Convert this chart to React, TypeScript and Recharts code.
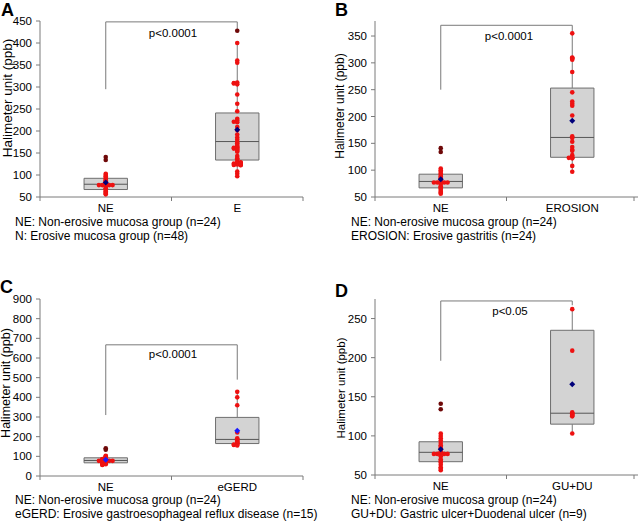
import { ComposedChart, XAxis, YAxis, Scatter, ReferenceArea, ReferenceLine } from 'recharts'

// halimeter readings (ppb) per group
const NE = [141, 134, 103, 100, 97, 94, 91, 88, 86, 84, 80, 77, 77, 77, 77, 77, 74, 70, 68, 66, 63, 60, 58, 56]
const EROSION = [355, 310, 309, 308, 306, 283, 245, 228, 224, 220, 202, 163, 160, 153, 143, 138, 136, 128, 124, 123, 123, 122, 108, 97]
const EGERD = [428, 400, 360, 221, 192, 185, 180, 175, 172, 168, 165, 162, 160, 158, 155]
const GUDU = [262, 209, 130, 129, 128, 127, 126, 125, 103]
// E = all erosive patients (n=48)
const E_ALL = [...EROSION, ...EGERD, ...GUDU]

// box stats: q1, median, q3, whisker low, whisker high, mean
const NE_STATS = [67, 79, 92.5, 56, 103, 83]
const E_STATS = [134, 176, 241, 96, 400, 203]
const EROSION_STATS = [124, 161, 253, 97, 355, 192]
const EGERD_STATS = [165, 186, 298, 155, 428, 230]
const GUDU_STATS = [115, 129, 235, 103, 262, 166]

const TICKS_A = [50, 100, 150, 200, 250, 300, 350, 400, 450]
const TICKS_B = [50, 100, 150, 200, 250, 300, 350]
const TICKS_C = [0, 100, 200, 300, 400, 500, 600, 700, 800, 900]
const TICKS_D = [50, 100, 150, 200, 250]

const NOTE_NE = 'NE: Non-erosive mucosa group (n=24)'

const AXIS = '#7a7a7a'
const RED = '#ee1111'
const DARK_RED = '#6e0808'
const BOX_HALF = 0.165
const FONT = '"Liberation Sans", Arial, sans-serif'

// spread equal readings sideways a little, like the original dot plot
const jitter = (values: number[], center: number, ppu: number) =>
    values.map((v, i) => {
        const k = values.slice(0, i).filter((w) => Math.abs(w - v) * ppu < 0.5).length
        const off = [0, -1, 1, -2, 2][k % 5]
        return { x: center + off * 0.026, y: v }
    })

const dot = (fill: string) => (p: any) => <circle cx={p.cx} cy={p.cy} r={2.3} fill={fill} />
const diamond = (fill: string) => (p: any) => (
    <path d={`M${p.cx},${p.cy - 3}L${p.cx + 3},${p.cy}L${p.cx},${p.cy + 3}L${p.cx - 3},${p.cy}Z`} fill={fill} />
)

const XTick = (p: any) => {
    const v = p.payload.value
    if (Number.isInteger(v)) {
        return <line x1={p.x} y1={p.y} x2={p.x} y2={p.y + 4} stroke={AXIS} />
    }
    return (
        <text x={p.x} y={p.y + 15} textAnchor="middle" fontSize={11.5} fill="#000">
            {p.cats[Math.floor(v)]}
        </text>
    )
}

type PanelProps = {
    letter: string
    left: number
    top: number
    marginTop: number
    axisH: number
    yWidth: number
    domain: [number, number]
    ticks: number[]
    cats: string[]
    groups: [number[], number[]][]
    bracket: number[]
    pText: string
    pX: number
    pY: number
    labelX: number
    labelY: number
    labelSize: number
    letterX: number
    letterY: number
    noteX: number
    noteY: number
    notes: string[]
    meanColor: string
}

const Panel = (props: PanelProps) => {
    const plotH = 260 - props.marginTop - props.axisH
    const ppu = plotH / (props.domain[1] - props.domain[0])
    const [neEnd, bTop, eEnd] = props.bracket

    return (
        <>
            <div style={{ position: 'absolute', left: props.left, top: props.top }}>
                <ComposedChart
                    width={319}
                    height={260}
                    margin={{ top: props.marginTop, right: 319 - props.yWidth - 263, bottom: 0, left: 0 }}
                >
                    <XAxis
                        type="number"
                        dataKey="x"
                        domain={[0, 2]}
                        allowDataOverflow
                        ticks={[0, 0.5, 1, 1.5, 2]}
                        height={props.axisH}
                        tickLine={false}
                        tickSize={0}
                        tickMargin={0}
                        axisLine={{ stroke: AXIS }}
                        tick={(p: any) => <XTick {...p} cats={props.cats} />}
                    />
                    <YAxis
                        type="number"
                        dataKey="y"
                        domain={props.domain}
                        allowDataOverflow
                        ticks={props.ticks}
                        width={props.yWidth}
                        tickSize={4}
                        tickMargin={4}
                        axisLine={{ stroke: AXIS }}
                        tickLine={{ stroke: AXIS }}
                        tick={{ fill: '#000', fontSize: 11.5 }}
                    />
                    {props.groups.map(([, s], i) => (
                        <ReferenceArea
                            key={'box' + i}
                            x1={i + 0.5 - BOX_HALF}
                            x2={i + 0.5 + BOX_HALF}
                            y1={s[0]}
                            y2={s[2]}
                            fill="#d3d3d3"
                            fillOpacity={1}
                            stroke="#6e6e6e"
                        />
                    ))}
                    {props.groups.map(([, s], i) => (
                        <ReferenceLine
                            key={'med' + i}
                            segment={[{ x: i + 0.5 - BOX_HALF, y: s[1] }, { x: i + 0.5 + BOX_HALF, y: s[1] }]}
                            stroke="#555"
                        />
                    ))}
                    {props.groups.map(([, s], i) => (
                        <ReferenceLine
                            key={'wh' + i}
                            segment={[{ x: i + 0.5, y: s[2] }, { x: i + 0.5, y: s[4] }]}
                            stroke={AXIS}
                        />
                    ))}
                    {props.groups.map(([, s], i) => (
                        <ReferenceLine
                            key={'wl' + i}
                            segment={[{ x: i + 0.5, y: s[3] }, { x: i + 0.5, y: s[0] }]}
                            stroke={AXIS}
                        />
                    ))}
                    <ReferenceLine segment={[{ x: 0.5, y: neEnd }, { x: 0.5, y: bTop }]} stroke={AXIS} />
                    <ReferenceLine segment={[{ x: 0.5, y: bTop }, { x: 1.5, y: bTop }]} stroke={AXIS} />
                    <ReferenceLine segment={[{ x: 1.5, y: bTop }, { x: 1.5, y: eEnd }]} stroke={AXIS} />
                    {props.groups.map(([vals, s], i) => {
                        const pts = jitter(vals, i + 0.5, ppu)
                        return (
                            <Scatter
                                key={'in' + i}
                                data={pts.filter((p) => p.y >= s[3] && p.y <= s[4])}
                                dataKey="y"
                                shape={dot(RED)}
                                isAnimationActive={false}
                            />
                        )
                    })}
                    {props.groups.map(([vals, s], i) => {
                        const pts = jitter(vals, i + 0.5, ppu)
                        return (
                            <Scatter
                                key={'out' + i}
                                data={pts.filter((p) => p.y < s[3] || p.y > s[4])}
                                dataKey="y"
                                shape={dot(DARK_RED)}
                                isAnimationActive={false}
                            />
                        )
                    })}
                    {props.groups.map(([, s], i) => (
                        <Scatter
                            key={'mean' + i}
                            data={[{ x: i + 0.5, y: s[5] }]}
                            dataKey="y"
                            shape={diamond(props.meanColor)}
                            isAnimationActive={false}
                        />
                    ))}
                </ComposedChart>
            </div>
            <div
                style={{
                    position: 'absolute',
                    left: props.letterX,
                    top: props.letterY,
                    fontSize: 18,
                    fontWeight: 'bold',
                    lineHeight: '20px',
                }}
            >
                {props.letter}
            </div>
            <div
                style={{
                    position: 'absolute',
                    left: props.labelX,
                    top: props.labelY,
                    fontSize: props.labelSize,
                    lineHeight: 1.1,
                    whiteSpace: 'nowrap',
                    transform: 'translate(-50%, -50%) rotate(-90deg)',
                }}
            >
                Halimeter unit (ppb)
            </div>
            <div
                style={{
                    position: 'absolute',
                    left: props.pX,
                    top: props.pY,
                    fontSize: 11.5,
                    lineHeight: '12px',
                    whiteSpace: 'nowrap',
                    transform: 'translateX(-50%)',
                }}
            >
                {props.pText}
            </div>
            <div
                style={{
                    position: 'absolute',
                    left: props.noteX,
                    top: props.noteY,
                    fontSize: 12,
                    lineHeight: '13.5px',
                    whiteSpace: 'nowrap',
                }}
            >
                {props.notes.map((n) => (
                    <div key={n}>{n}</div>
                ))}
            </div>
        </>
    )
}

const App = () => {
    return (
        <div
            style={{
                position: 'absolute',
                left: 0,
                top: 0,
                width: 638,
                height: 521,
                background: '#fff',
                fontFamily: FONT,
                color: '#000',
                overflow: 'hidden',
            }}
        >
            <Panel
                letter="A"
                left={0}
                top={0}
                marginTop={21}
                axisH={63}
                yWidth={40}
                domain={[50, 450]}
                ticks={TICKS_A}
                cats={['NE', 'E']}
                groups={[[NE, NE_STATS], [E_ALL, E_STATS]]}
                bracket={[295, 448, 428]}
                pText="p<0.0001"
                pX={173}
                pY={27}
                labelX={8}
                labelY={98}
                labelSize={13.5}
                letterX={1}
                letterY={0}
                noteX={15}
                noteY={216}
                notes={[NOTE_NE, 'N: Erosive mucosa group (n=48)']}
                meanColor="#00007a"
            />
            <Panel
                letter="B"
                left={319}
                top={0}
                marginTop={21}
                axisH={63}
                yWidth={56}
                domain={[50, 378]}
                ticks={TICKS_B}
                cats={['NE', 'EROSION']}
                groups={[[NE, NE_STATS], [EROSION, EROSION_STATS]]}
                bracket={[250, 370, 357]}
                pText="p<0.0001"
                pX={509}
                pY={30}
                labelX={341}
                labelY={106}
                labelSize={12}
                letterX={335}
                letterY={0}
                noteX={351}
                noteY={216}
                notes={[NOTE_NE, 'EROSION: Erosive gastritis (n=24)']}
                meanColor="#00007a"
            />
            <Panel
                letter="C"
                left={0}
                top={260}
                marginTop={39}
                axisH={44}
                yWidth={40}
                domain={[0, 900]}
                ticks={TICKS_C}
                cats={['NE', 'eGERD']}
                groups={[[NE, NE_STATS], [EGERD, EGERD_STATS]]}
                bracket={[310, 667, 490]}
                pText="p<0.0001"
                pX={173}
                pY={348}
                labelX={7}
                labelY={383}
                labelSize={12.5}
                letterX={0}
                letterY={277}
                noteX={15}
                noteY={494}
                notes={[NOTE_NE, 'eGERD: Erosive gastroesophageal reflux disease (n=15)']}
                meanColor="#1a1aff"
            />
            <Panel
                letter="D"
                left={319}
                top={260}
                marginTop={39}
                axisH={45}
                yWidth={56}
                domain={[50, 275]}
                ticks={TICKS_D}
                cats={['NE', 'GU+DU']}
                groups={[[NE, NE_STATS], [GUDU, GUDU_STATS]]}
                bracket={[196, 272.5, 267]}
                pText="p<0.05"
                pX={510}
                pY={305}
                labelX={341}
                labelY={388}
                labelSize={11.5}
                letterX={335}
                letterY={281}
                noteX={351}
                noteY={494}
                notes={[NOTE_NE, 'GU+DU: Gastric ulcer+Duodenal ulcer (n=9)']}
                meanColor="#00007a"
            />
        </div>
    )
}

export default App
